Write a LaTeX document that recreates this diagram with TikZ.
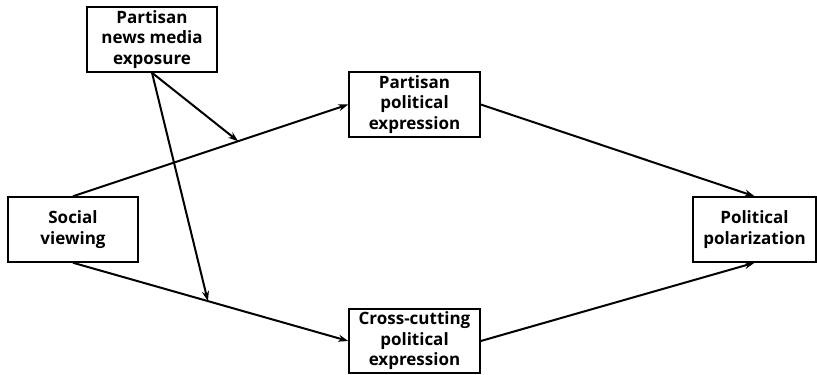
\documentclass[tikz,border=0pt]{standalone}
\usepackage{fontspec}
\setmainfont{Open Sans}
\usetikzlibrary{arrows.meta,calc}
\begin{document}
\begin{tikzpicture}[x=1pt,y=-1pt,
  box/.style={draw,line width=1.5pt,minimum width=130pt,minimum height=65pt,inner sep=0pt,align=center,font=\fontsize{17}{20.5}\selectfont\bfseries},
  conn/.style={line width=2pt,-{Stealth[length=10pt,width=7pt]}}]
\useasboundingbox (0,0) rectangle (817,375);
\node[box] (media) at (152,39.5) {Partisan\\news media\\exposure};
\node[box] (sv) at (73,229.5) {Social\\viewing};
\node[box,minimum width=131pt] (ppe) at (414.5,104.5) {Partisan\\political\\expression};
\node[box,minimum width=131pt,minimum height=64pt] (cce) at (414.5,341) {Cross-cutting\\political\\expression};
\node[box,minimum width=123pt] (pp) at (754.5,229.5) {Political\\polarization};
\coordinate (m1) at ($(sv.north)!0.6!(ppe.west)$);
\coordinate (m2) at ($(sv.south)!0.49!(cce.west)$);
\draw[conn] (sv.north) -- (ppe.west);
\draw[conn] (sv.south) -- (cce.west);
\draw[conn] (ppe.east) -- (pp.north);
\draw[conn] (cce.east) -- (pp.south);
\draw[conn] (media.south) -- (m1);
\draw[conn] (media.south) -- (m2);
\end{tikzpicture}
\end{document}
